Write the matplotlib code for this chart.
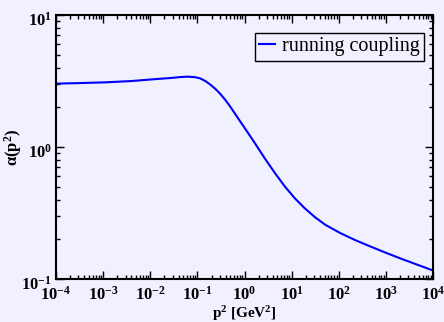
import numpy as np
import matplotlib
matplotlib.use('Agg')
import matplotlib.pyplot as plt
import matplotlib.transforms as mtransforms
from matplotlib.ticker import LogLocator, FuncFormatter, NullFormatter

# values: log10(p^2 / GeV^2) and alpha(p^2)
logp2 = [-4.0, -3.5, -2.94, -2.4, -1.88, -1.58, -1.35, -1.2, -1.05, -0.94,
         -0.83, -0.73, -0.62, -0.52, -0.41, -0.31, -0.1, 0.12, 0.22, 0.43,
         0.65, 0.86, 1.07, 1.28, 1.5, 1.71, 2.03, 2.35, 2.66, 3.0, 3.3,
         3.65, 4.0]
alpha = [3.02, 3.05, 3.09, 3.16, 3.27, 3.33, 3.39, 3.41, 3.38, 3.31,
         3.16, 2.98, 2.76, 2.54, 2.28, 2.04, 1.58, 1.21, 1.07, 0.82,
         0.632, 0.50, 0.408, 0.343, 0.293, 0.258, 0.223, 0.197, 0.177, 0.158, 0.1435,
         0.129, 0.116]
p2 = [10**v for v in logp2]

bg = '#f0f0ff'
plt.rcParams['font.family'] = ['Liberation Serif', 'DejaVu Serif']
plt.rcParams['mathtext.fontset'] = 'custom'
plt.rcParams['mathtext.rm'] = 'Liberation Serif:bold'
plt.rcParams['mathtext.it'] = 'Liberation Serif:bold'
plt.rcParams['mathtext.bf'] = 'Liberation Serif:bold'

fig = plt.figure(figsize=(4.44, 3.22), dpi=100, facecolor=bg)
ax = fig.add_axes([56/444, 43/322, 377/444, 264/322], facecolor=bg)

ax.plot(p2, alpha, color='#0000ff', lw=1.5, label='running coupling')
ax.set_xscale('log')
ax.set_yscale('log')
ax.set_xlim(1e-4, 1e4)
ax.set_ylim(0.1, 10)

ax.xaxis.set_major_locator(LogLocator(base=10, numticks=20))
ax.xaxis.set_minor_locator(LogLocator(base=10, subs=np.arange(2, 10), numticks=20))
ax.yaxis.set_major_locator(LogLocator(base=10, numticks=20))
ax.yaxis.set_minor_locator(LogLocator(base=10, subs=np.arange(2, 10), numticks=20))
fmt = FuncFormatter(lambda v, pos: r'$10^{%d}$' % int(round(np.log10(v))))
ax.xaxis.set_major_formatter(fmt)
ax.yaxis.set_major_formatter(fmt)
ax.xaxis.set_minor_formatter(NullFormatter())
ax.yaxis.set_minor_formatter(NullFormatter())

ax.tick_params(which='both', direction='in', top=True, right=True, width=1, colors='black')
ax.tick_params(which='major', length=6, labelsize=12)
ax.tick_params(axis='x', which='major', pad=5)
ax.tick_params(axis='y', which='major', pad=3)
ax.tick_params(which='minor', length=3)
for s in ax.spines.values():
    s.set_linewidth(1.5)

# y tick labels sit a bit low in the reference
off = mtransforms.ScaledTranslation(0, -0.04, fig.dpi_scale_trans)
for lab in ax.get_yticklabels():
    lab.set_transform(lab.get_transform() + off)

ax.set_xlabel(r'p$^2$ [GeV$^2$]', fontsize=11, fontweight='bold', va='center')
ax.set_ylabel(r'$\alpha$(p$^2$)', fontsize=12, fontweight='bold', va='center')
ax.xaxis.set_label_coords(0.5, -0.13)
ax.yaxis.set_label_coords(-0.114, 0.5)

leg = ax.legend(loc='upper right', bbox_to_anchor=(0.976, 0.932), fontsize=14.5,
                handlelength=0.77, handletextpad=0.36, borderpad=0.22,
                borderaxespad=0, fancybox=False, framealpha=1,
                facecolor=bg, edgecolor='black')
leg.get_frame().set_linewidth(1)

fig.savefig('out.png', dpi=100, facecolor=bg)
